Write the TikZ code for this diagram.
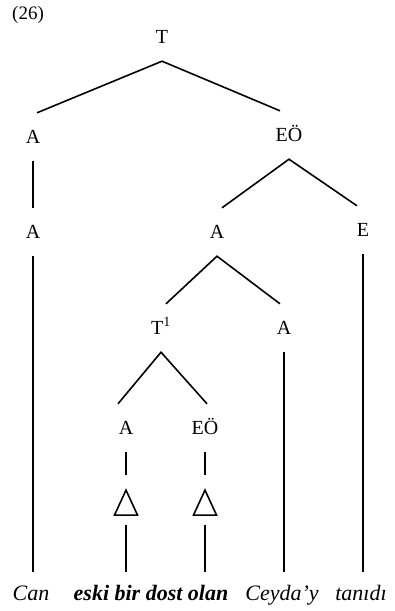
\documentclass[tikz,border=0pt]{standalone}
\usepackage{fontspec}
\setmainfont{Liberation Serif}
\usepackage{tikz}
\usetikzlibrary{shapes,positioning}

\begin{document}
\begin{tikzpicture}[
    x=1pt, y=-1pt,
    cat/.style={inner sep=0pt, text height=13pt, text depth=0pt, minimum height=48pt, font=\fontsize{20}{22}\selectfont},
    word/.style={anchor=base, inner xsep=0pt, inner ysep=13pt, text height=15pt, font=\fontsize{22}{24}\selectfont\itshape},
    tri/.style={draw, line width=1.6pt, isosceles triangle, isosceles triangle stretches, shape border rotate=90, minimum width=23pt, minimum height=25pt, inner sep=0pt, anchor=apex},
    branch/.style={line width=1.6pt}
]
\useasboundingbox (0,0) rectangle (394,611);

% Example number
\node[font=\fontsize{19}{21}\selectfont] (num) at (28,14.5) {(26)};

% Tree labels (top to bottom)
\node[cat] (t) at (162,37) {T};
\node[cat] (a1) at (33,137) {A};
\node[cat] (eo1) at (289,135) {EÖ};
\node[cat] (a2) at (33,232) {A};
\node[cat] (a3) at (217,232) {A};
\node[cat] (e) at (363,230) {E};
\node[cat] (t1) at (161,328) {T\textsuperscript{1}};
\node[cat] (a4) at (284,328) {A};
\node[cat] (a5) at (126,428) {A};
\node[cat] (eo2) at (205,428) {EÖ};

% Triangles
\node[tri] (tri1) at (126,488) {};
\node[tri] (tri2) at (205,488) {};

% Words (bottom row)
\node[word] (can) at (31,600) {Can};
\node[word, font=\fontsize{22}{24}\selectfont\bfseries\itshape] (eski) at (151,600) {eski bir dost olan};
\node[word] (ceyda) at (282,600) {Ceyda'y};
\node[word] (tanidi) at (361,600) {tanıdı};

% Branches
\draw[branch] ([xshift=4pt]a1.north) -- (t.south) -- ([xshift=-9pt]eo1.north);
\draw[branch] (a1.south) -- (a2.north);
\draw[branch] ([xshift=5pt]a3.north) -- (eo1.south) -- ([xshift=-6pt]e.north);
\draw[branch] ([xshift=5pt]t1.north) -- (a3.south) -- ([xshift=-4pt]a4.north);
\draw[branch] ([xshift=-8pt]a5.north) -- (t1.south) -- ([xshift=2pt]eo2.north);
\draw[branch, shorten >=13pt] (a5.south) -- (tri1.apex);
\draw[branch, shorten >=13pt] (eo2.south) -- (tri2.apex);

% Lines down to the words
\draw[branch] (a2.south) -- (a2.south |- can.north);
\draw[branch, shorten <=9pt] (tri1.south) -- (tri1.south |- eski.north);
\draw[branch, shorten <=9pt] (tri2.south) -- (tri2.south |- eski.north);
\draw[branch] (a4.south) -- (a4.south |- ceyda.north);
\draw[branch] (e.south) -- (e.south |- tanidi.north);

\end{tikzpicture}
\end{document}
